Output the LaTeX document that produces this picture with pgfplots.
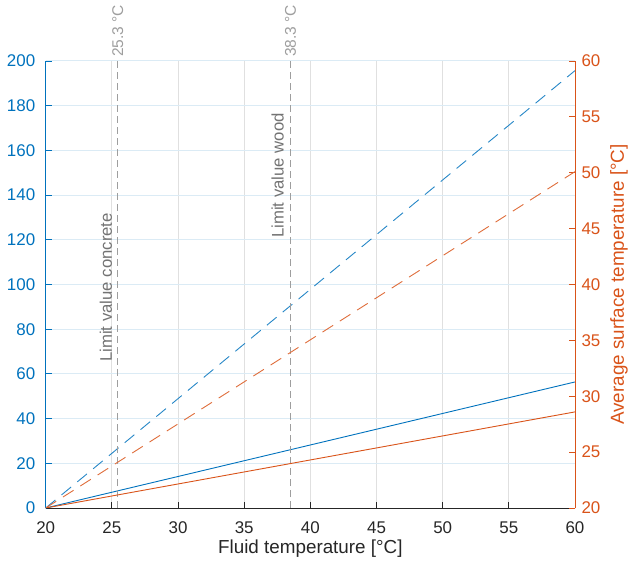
\documentclass[border=0pt]{standalone}
\usepackage{pgfplots}
\pgfplotsset{compat=1.18}
\usepackage{fontspec}
\setmainfont{Liberation Sans}
\definecolor{mblue}{rgb}{0,0.447,0.741}
\definecolor{morange}{rgb}{0.85,0.325,0.098}
\definecolor{vgrid}{rgb}{0.88,0.88,0.88}
\definecolor{hgrid}{rgb}{0.86,0.92,0.96}
\definecolor{limgray}{rgb}{0.62,0.62,0.62}
\definecolor{txtgray}{rgb}{0.45,0.45,0.45}
\definecolor{axgray}{rgb}{0.15,0.15,0.15}
\newcommand{\tickfont}{\fontsize{17}{18}\selectfont}
\newcommand{\labfont}{\fontsize{18.9}{20}\selectfont}
\newcommand{\annfont}{\fontsize{16.8}{18}\selectfont}
\newcommand{\topfont}{\fontsize{15.6}{17}\selectfont}
\begin{document}
\begin{tikzpicture}
\begin{axis}[name=main,
  scale only axis, width=529.3bp, height=447bp,
  xmin=20, xmax=60, ymin=0, ymax=200,
  xtick={20,25,...,60}, ytick={0,20,...,200},
  axis x line*=bottom, axis y line*=left,
  x axis line style={draw=axgray, line width=0.8bp, -},
  y axis line style={draw=mblue, line width=0.8bp, -},
  xtick style={draw=axgray, line width=0.8bp},
  ytick style={draw=mblue, line width=0.8bp},
  tick align=inside, major tick length=6bp,
  xmajorgrids, ymajorgrids,
  major x grid style={draw=vgrid, line width=1bp},
  major y grid style={draw=hgrid, line width=1bp},
  /pgf/number format/assume math mode=true,
  xticklabel style={font=\tickfont, text=axgray, yshift=-10bp},
  yticklabel style={font=\tickfont, text=mblue, xshift=-7bp},
  xlabel={Fluid temperature [°C]},
  xlabel style={font=\labfont, text=axgray, inner sep=0pt, at={(axis description cs:0.5,0)}, anchor=center, yshift=-41bp},
  clip=false,
]
\addplot[mblue, line width=0.9bp] coordinates {(20,0) (60,56.4)};
\addplot[mblue!85!white, line width=0.9bp, dash pattern=on 12.5bp off 8bp] coordinates {(20,0) (60,195.7)};
\addplot[limgray, line width=1.2bp, dash pattern=on 7bp off 4bp] coordinates {(25.45,0) (25.45,200)};
\addplot[limgray, line width=1.2bp, dash pattern=on 7bp off 4bp] coordinates {(38.5,0) (38.5,200)};
\node[yshift=4bp, rotate=90, anchor=west, inner sep=0pt, text=limgray, font=\topfont] at (axis cs:25.45,200) {25.3 °C};
\node[yshift=4bp, rotate=90, anchor=west, inner sep=0pt, text=limgray, font=\topfont] at (axis cs:38.5,200) {38.3 °C};
\node[xshift=-6bp, rotate=90, anchor=base west, inner sep=0pt, text=txtgray, font=\annfont] at (axis cs:25.45,65.3) {Limit value concrete};
\node[xshift=-7bp, rotate=90, anchor=base west, inner sep=0pt, text=txtgray, font=\annfont] at (axis cs:38.5,120.8) {Limit value wood};
\end{axis}
\begin{axis}[
  scale only axis, width=529.3bp, height=447bp,
  xmin=20, xmax=60, ymin=20, ymax=60,
  axis x line=none, axis y line*=right,
  ytick={20,25,...,60},
  y axis line style={draw=morange, line width=0.8bp, -},
  ytick style={draw=morange, line width=0.8bp},
  tick align=inside, major tick length=6bp,
  /pgf/number format/assume math mode=true,
  yticklabel style={font=\tickfont, text=morange, xshift=3bp},
  ylabel={Average surface temperature [°C]},
  ylabel style={font=\labfont, text=morange, inner sep=0pt, at={(axis description cs:1,0.5)}, anchor=center, yshift=-44bp},
]
\addplot[morange, line width=0.9bp] coordinates {(20,20) (60,28.6)};
\addplot[morange!85!white, line width=0.9bp, dash pattern=on 12.5bp off 8bp] coordinates {(20,20) (60,50.1)};
\end{axis}
\path (main.south west) ++(-45.7bp,-54bp) coordinate (bl);
\path (main.north east) ++(54bp,61bp) coordinate (tr);
\path (bl) rectangle (tr);
\end{tikzpicture}
\end{document}
